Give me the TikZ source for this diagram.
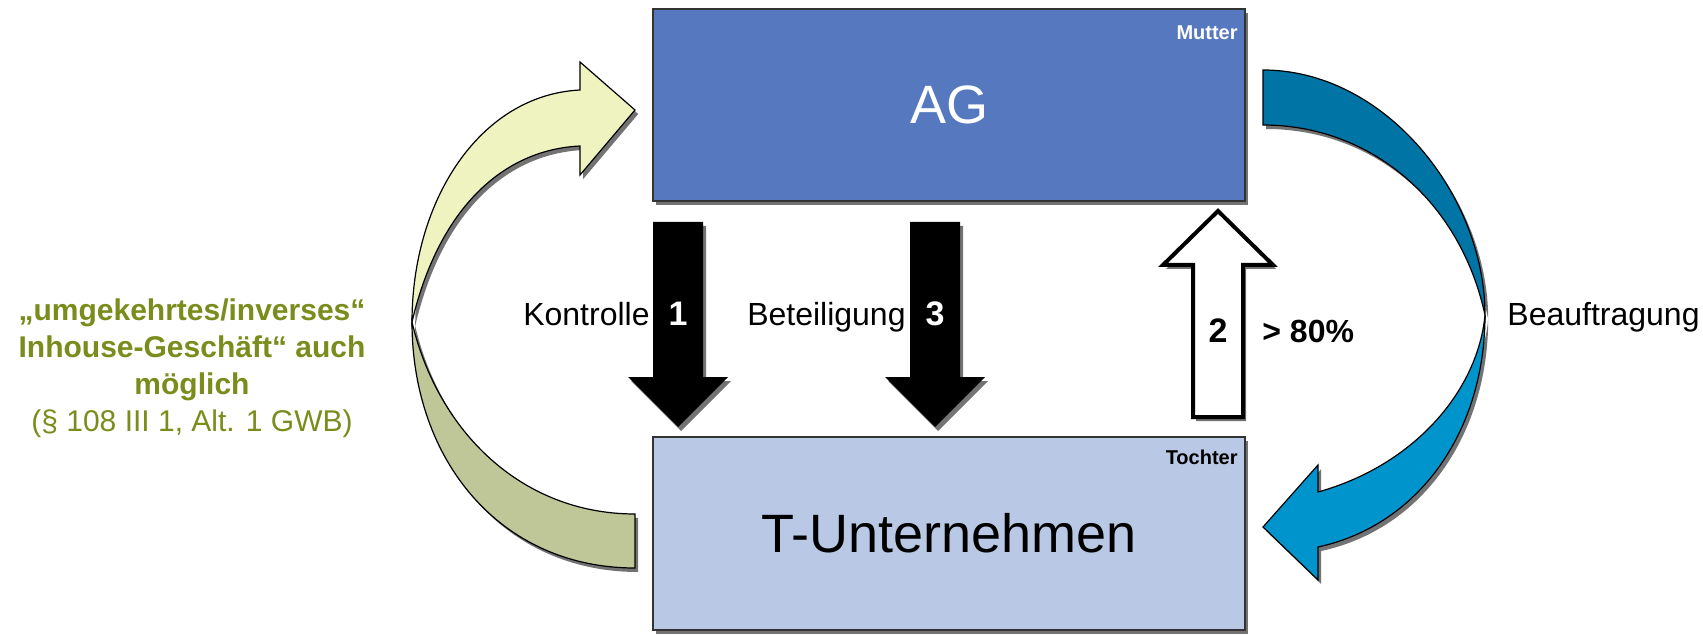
\documentclass[tikz,border=0pt]{standalone}
\usepackage{fontspec}
\setmainfont{Liberation Sans}
\usetikzlibrary{shadows}
\definecolor{agblue}{RGB}{85,120,190}
\definecolor{tublue}{RGB}{185,200,228}
\definecolor{lemon}{RGB}{238,243,192}
\definecolor{sage}{RGB}{191,198,151}
\definecolor{tealdark}{RGB}{0,116,164}
\definecolor{tealbright}{RGB}{0,148,204}
\definecolor{inhousegreen}{RGB}{122,140,28}
\tikzset{
  shade off/.style={drop shadow={shadow xshift=1.6pt,shadow yshift=-2pt,opacity=.55,fill=black}},
  box/.style={draw=black!80, line width=.6pt, minimum width=296pt, inner sep=0pt, shade off, font=\fontsize{27}{30}\selectfont},
  tag/.style={anchor=base east, inner sep=0pt, font=\bfseries\fontsize{10}{12}\selectfont},
  ribbon/.style={draw=black, line width=.6pt, shade off},
  solidarrow/.style={fill=black, shade off},
  openarrow/.style={draw=black, fill=white, line width=2pt, shade off},
  lbl/.style={inner sep=0pt, font=\fontsize{16}{19}\selectfont},
  num/.style={anchor=base, inner sep=0pt, font=\bfseries\fontsize{17}{20}\selectfont},
  inhouse/.style={align=center, text=inhousegreen, inner sep=0pt, font=\fontsize{15}{18.5}\selectfont}
}
\begin{document}
\begin{tikzpicture}[x=0.5pt,y=-0.5pt]
  \useasboundingbox (0,0) rectangle (1703,636);

  % the two companies
  \node[box,fill=agblue,text=white,minimum height=96pt] (ag) at (949,105) {AG};
  \node[box,fill=tublue,minimum height=96.5pt] (tu) at (949,533.5) {T-Unternehmen};
  \node[tag,text=white] (mutter) at (1238,40) {Mutter};
  \node[tag] (tochter) at (1238,464) {Tochter};

  % left ribbon, T -> AG
  \path[ribbon,fill=sage]
   (412,322) .. controls (412,460) and (500,568) .. (635,568)
   -- (635,514) .. controls (522,514) and (438,432) .. (412,322) -- cycle;
  \path[ribbon,fill=lemon]
   (580,90) .. controls (480,95) and (412,200) .. (412,322)
   .. controls (437,215) and (498,150) .. (580,146)
   -- (580,175) -- (635,110) -- (580,62) -- cycle;

  % right ribbon, AG -> T
  \path[ribbon,fill=tealdark]
   (1263,70) .. controls (1385,70) and (1485,195) .. (1485,315)
   .. controls (1460,200) and (1370,125) .. (1263,125) -- cycle;
  \path[ribbon,fill=tealbright]
   (1485,315) .. controls (1485,430) and (1420,525) .. (1318,547)
   -- (1318,580) -- (1263,527) -- (1318,465) -- (1318,492)
   .. controls (1415,465) and (1478,390) .. (1485,315) -- cycle;

  % straight arrows
  \path[solidarrow] (653,222) -- (703,222) -- (703,377) -- (728,377) -- (678,427) -- (628,377) -- (653,377) -- cycle;
  \path[solidarrow] (910,222) -- (960,222) -- (960,377) -- (985,377) -- (935,427) -- (885,377) -- (910,377) -- cycle;
  \path[openarrow] (1193,417) -- (1243,417) -- (1243,265) -- (1273,265) -- (1218,211) -- (1163,265) -- (1193,265) -- cycle;

  % labels
  \node[lbl,anchor=base east] (kontrolle) at (650,326) {Kontrolle};
  \node[num,text=white] (one) at (678,326) {1};
  \node[lbl,anchor=base east] (beteiligung) at (906,326) {Beteiligung};
  \node[num,text=white] (three) at (935,326) {3};
  \node[num] (two) at (1218,343) {2};
  \node[lbl,anchor=base west,font=\bfseries\fontsize{16}{19}\selectfont] (quote) at (1262,343) {> 80\%};
  \node[lbl,anchor=base west] (beauftragung) at (1507,326) {Beauftragung};
  \node[inhouse] (reverse) at (192,368)
   {\bfseries „umgekehrtes/inverses“\\\bfseries Inhouse-Geschäft“ auch\\\bfseries möglich\\(§ 108 III 1, Alt. 1 GWB)};
\end{tikzpicture}
\end{document}
